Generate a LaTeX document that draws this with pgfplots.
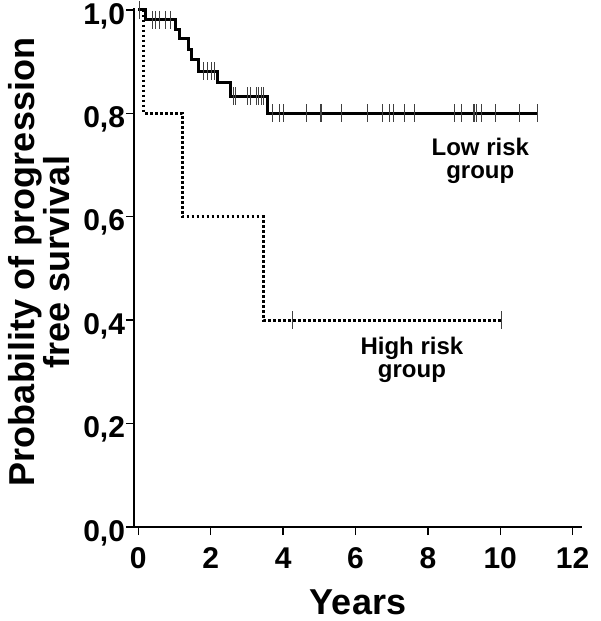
\documentclass[border=0pt]{standalone}
\usepackage{pgfplots}
\pgfplotsset{compat=1.18}
\usepackage{fontspec}
\setmainfont{Liberation Sans}
\begin{document}
\begin{tikzpicture}
\begin{axis}[
  name=ax,
  scale only axis,
  width=224pt, height=259.3pt,
  xmin=-0.12, xmax=12.26, ymin=0, ymax=1.003,
  axis lines=left,
  axis line style={-, line width=1pt, black},
  clip=false,
  xtick={0,2,4,6,8,10,12},
  ytick={0,0.2,0.4,0.6,0.8,1.0},
  tick align=outside,
  major tick length=4pt,
  tick style={line width=0.7pt, black},
  /pgf/number format/assume math mode=true,
  yticklabel style={/pgf/number format/fixed, /pgf/number format/fixed zerofill, /pgf/number format/precision=1, /pgf/number format/use comma, inner sep=0.3pt, yshift=-3pt},
  ticklabel style={font=\fontsize{15}{15}\selectfont\bfseries},
  xticklabel style={inner sep=6pt},
]
% Low risk group
\addplot[const plot, line width=1.5pt, black] coordinates {
 (0,1) (0.20,0.981) (1.02,0.963) (1.13,0.945) (1.38,0.924) (1.47,0.904)
 (1.65,0.881) (2.20,0.860) (2.54,0.833) (3.56,0.80) (11.04,0.80)
};
\addplot[only marks, mark=|, mark size=4.5pt, mark options={line width=0.5pt}, black!75] coordinates {
 (0.03,1)
 (0.40,0.981) (0.48,0.981) (0.58,0.981) (0.76,0.981) (0.90,0.981)
 (1.80,0.881) (1.90,0.881) (2.01,0.881) (2.10,0.881)
 (2.62,0.833) (2.68,0.833) (3.03,0.833) (3.10,0.833) (3.26,0.833) (3.33,0.833) (3.40,0.833) (3.47,0.833)
 (3.70,0.80) (3.89,0.80) (4.00,0.80) (4.64,0.80) (5.04,0.80) (5.07,0.80) (5.61,0.80)
 (6.32,0.80) (6.76,0.80) (6.93,0.80) (7.06,0.80) (7.36,0.80) (7.64,0.80) (8.74,0.80)
 (8.92,0.80) (9.25,0.80) (9.29,0.80) (9.34,0.80) (9.48,0.80) (9.87,0.80) (10.52,0.80) (11.04,0.80)
};
% High risk group
\addplot[const plot, line width=1.5pt, black, dash pattern=on 1.4pt off 1.1pt] coordinates {
 (0,1) (0.15,0.8) (1.22,0.6) (3.45,0.4) (10.03,0.4)
};
\addplot[only marks, mark=|, mark size=4.5pt, mark options={line width=0.5pt}, black!75] coordinates {
 (4.27,0.4) (10.03,0.4)
};
\node[align=center, inner sep=0pt, font=\fontsize{12}{11.2}\selectfont\bfseries] at (axis cs:9.45,0.708) {Low risk\\group};
\node[align=center, inner sep=0pt, font=\fontsize{12}{11.2}\selectfont\bfseries] at (axis cs:7.56,0.323) {High risk\\group};
\end{axis}
\node[rotate=90, align=center, inner sep=0pt, font=\fontsize{18}{17.5}\selectfont\bfseries]
  at ([xshift=-47.25pt, yshift=132.5pt]ax.south west) {Probability of progression\\free survival};
\node[inner sep=0pt, font=\fontsize{18}{18}\selectfont\bfseries]
  at ([yshift=-37.5pt]ax.south) {Years};
\pgfresetboundingbox
\path[use as bounding box] ([xshift=-67pt, yshift=-47pt]ax.south west) rectangle ++(300pt,310.5pt);
\end{tikzpicture}
\end{document}
